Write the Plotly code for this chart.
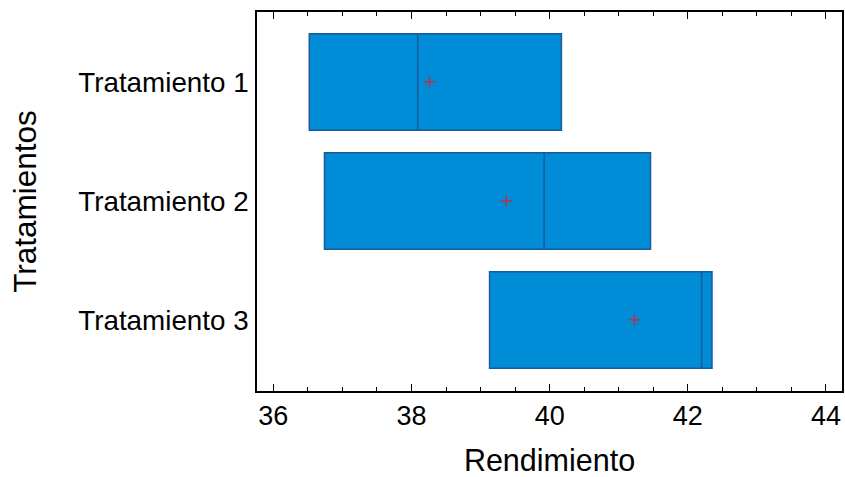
import numpy as np
import plotly.graph_objects as go

categories = ["Tratamiento 1", "Tratamiento 2", "Tratamiento 3"]
t1_values = [36.52, 38.09, 40.17]
t2_values = [36.74, 39.92, 41.46]
t3_values = [39.13, 42.20, 42.35]
x_ticks = [36, 38, 40, 42, 44]

series = [t1_values, t2_values, t3_values]
xs, ys = [], []
for cat, vals in zip(categories, series):
    xs += vals
    ys += [cat] * len(vals)
means = [float(np.mean(v)) for v in series]

FONT = "Arial, Liberation Sans, sans-serif"
fig = go.Figure()
fig.add_trace(go.Box(
    x=xs, y=ys, orientation="h",
    quartilemethod="exclusive",
    boxpoints=False,
    fillcolor="#008CD6",
    line=dict(color="#1B5A9A", width=1.5),
    width=0.81,
    whiskerwidth=0.24,
    showlegend=False,
    hoverinfo="x",
))
fig.add_trace(go.Scatter(
    x=means, y=categories, mode="markers",
    marker=dict(symbol="cross-thin", size=8, line=dict(color="#E0202A", width=1.2), color="#E0202A"),
    showlegend=False,
))

fig.update_layout(
    width=845, height=477,
    margin=dict(l=257, r=3, t=12, b=86),
    paper_bgcolor="white", plot_bgcolor="white",
    font=dict(family=FONT, size=28, color="black"),
)
fig.update_xaxes(
    automargin=False,
    range=[35.763, 44.232],
    tickvals=x_ticks, ticktext=[str(t) for t in x_ticks],
    ticks="inside", ticklen=7, tickwidth=1, tickcolor="black",
    minor=dict(dtick=0.5, tick0=36, ticks="inside", ticklen=4, tickwidth=1, tickcolor="black"),
    showline=True, linecolor="black", linewidth=1.5, mirror="ticks",
    showgrid=False, zeroline=False,
    tickfont=dict(size=27),
    title=dict(text="Rendimiento", font=dict(size=30.5), standoff=26),
)
fig.update_yaxes(
    automargin=False,
    type="category",
    categoryorder="array", categoryarray=categories,
    range=[2.597, -0.588],
    ticks="", showline=True, linecolor="black", linewidth=1.5, mirror=True,
    showgrid=False, zeroline=False,
    tickfont=dict(size=27.8),
    ticklabelstandoff=1,
    title=dict(text="Tratamientos", font=dict(size=31.5), standoff=32),
)
fig.write_html("out.html")
